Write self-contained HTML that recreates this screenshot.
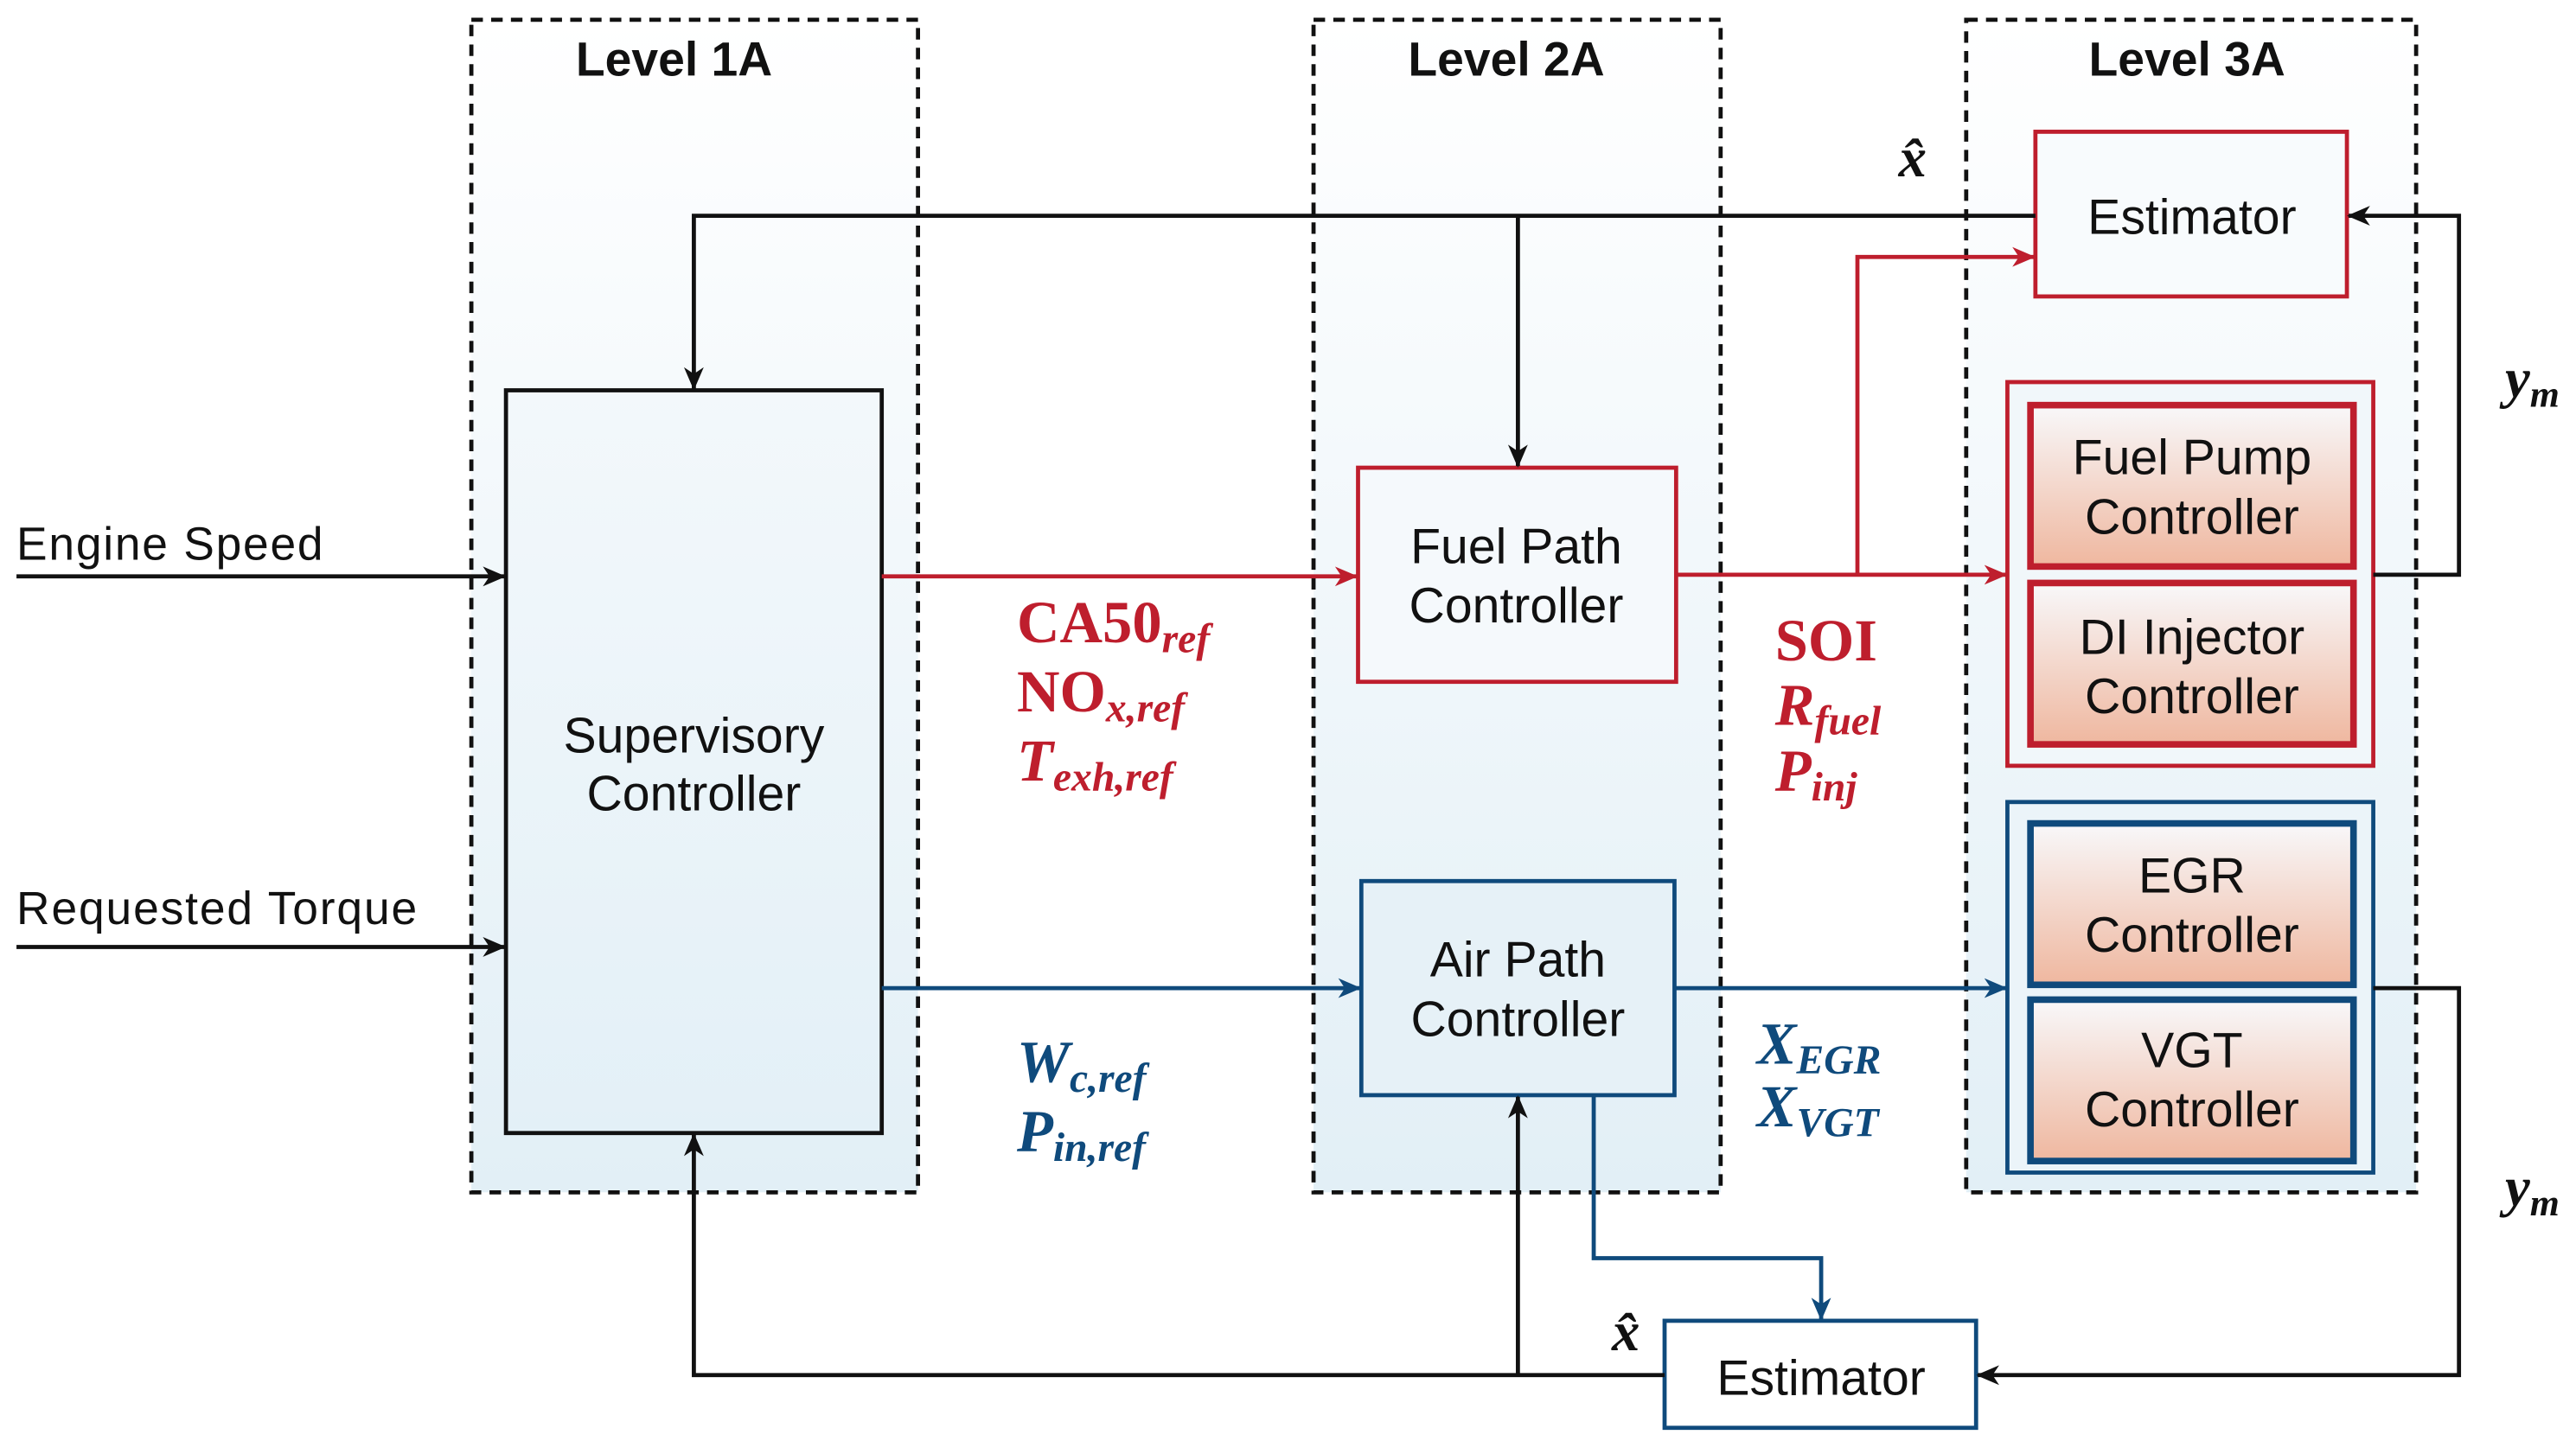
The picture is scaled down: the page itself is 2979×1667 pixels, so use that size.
<!DOCTYPE html>
<html><head><meta charset="utf-8"><style>
html,body{margin:0;padding:0;background:#fff;}
svg{display:block;}
</style></head><body>
<svg width="2979" height="1667" viewBox="0 0 1563 875" preserveAspectRatio="none" xmlns="http://www.w3.org/2000/svg">
<defs>
<linearGradient id="lv" x1="0" y1="0" x2="0" y2="1"><stop offset="0" stop-color="#ffffff"/><stop offset="1" stop-color="#e2eff6"/></linearGradient>
<linearGradient id="bx" x1="0" y1="0" x2="0" y2="1"><stop offset="0" stop-color="#f8f8fa"/><stop offset="1" stop-color="#efb79f"/></linearGradient>
<linearGradient id="sv" x1="0" y1="0" x2="0" y2="1"><stop offset="0" stop-color="#f3f8fb"/><stop offset="1" stop-color="#e3f0f7"/></linearGradient>
<marker id="ak" markerWidth="14" markerHeight="14" refX="13" refY="7" orient="auto" markerUnits="userSpaceOnUse"><path d="M0,1 L14,7 L0,13 L4,7 z" fill="#111"/></marker>
<marker id="ar" markerWidth="14" markerHeight="14" refX="13" refY="7" orient="auto" markerUnits="userSpaceOnUse"><path d="M0,1 L14,7 L0,13 L4,7 z" fill="#be1e2d"/></marker>
<marker id="ab" markerWidth="14" markerHeight="14" refX="13" refY="7" orient="auto" markerUnits="userSpaceOnUse"><path d="M0,1 L14,7 L0,13 L4,7 z" fill="#0f4a7c"/></marker>
</defs>
<g stroke="#111" stroke-width="2.5" stroke-dasharray="7,5" fill="url(#lv)">
<rect x="286" y="12" width="271" height="712"/>
<rect x="797" y="12" width="247" height="712"/>
<rect x="1193" y="12" width="273" height="712"/>
</g>
<g font-family="Liberation Sans, sans-serif" font-weight="bold" font-size="29" fill="#111" text-anchor="middle">
<text x="409" y="46">Level 1A</text><text x="914" y="46">Level 2A</text><text x="1327" y="46">Level 3A</text>
</g>
<rect x="307" y="237" width="228" height="451" fill="url(#sv)" stroke="#111" stroke-width="2.5"/>
<rect x="824" y="284" width="193" height="130" fill="#f5f9fc" stroke="#be1e2d" stroke-width="2.5"/>
<rect x="826" y="535" width="190" height="130" fill="#e6f1f7" stroke="#0f4a7c" stroke-width="2.5"/>
<rect x="1235" y="80" width="189" height="100" fill="#f8fbfd" stroke="#be1e2d" stroke-width="2.5"/>
<rect x="1218" y="232" width="222" height="233" fill="#f1f7fa" stroke="#be1e2d" stroke-width="2.5"/>
<rect x="1232" y="246" width="196" height="98" fill="url(#bx)" stroke="#be1e2d" stroke-width="4"/>
<rect x="1232" y="354" width="196" height="98" fill="url(#bx)" stroke="#be1e2d" stroke-width="4"/>
<rect x="1218" y="487" width="222" height="225" fill="#ebf4f9" stroke="#0f4a7c" stroke-width="2.5"/>
<rect x="1232" y="500" width="196" height="98" fill="url(#bx)" stroke="#0f4a7c" stroke-width="4"/>
<rect x="1232" y="607" width="196" height="98" fill="url(#bx)" stroke="#0f4a7c" stroke-width="4"/>
<rect x="1010" y="802" width="189" height="65" fill="#fff" stroke="#0f4a7c" stroke-width="2.5"/>
<g fill="none" stroke-width="2.5">
<path d="M1235,131 H421 V236" stroke="#111" marker-end="url(#ak)"/>
<path d="M921,131 V283" stroke="#111" marker-end="url(#ak)"/>
<path d="M10,350 H306" stroke="#111" marker-end="url(#ak)"/>
<path d="M10,575 H306" stroke="#111" marker-end="url(#ak)"/>
<path d="M535,350 H823" stroke="#be1e2d" marker-end="url(#ar)"/>
<path d="M1017,349 H1217" stroke="#be1e2d" marker-end="url(#ar)"/>
<path d="M1127,349 V156 H1234" stroke="#be1e2d" marker-end="url(#ar)"/>
<path d="M1440,349 H1492 V131 H1425" stroke="#111" marker-end="url(#ak)"/>
<path d="M535,600 H825" stroke="#0f4a7c" marker-end="url(#ab)"/>
<path d="M1016,600 H1217" stroke="#0f4a7c" marker-end="url(#ab)"/>
<path d="M1440,600 H1492 V835 H1200" stroke="#111" marker-end="url(#ak)"/>
<path d="M967,665 V764 H1105 V801" stroke="#0f4a7c" marker-end="url(#ab)"/>
<path d="M1010,835 H421 V689" stroke="#111" marker-end="url(#ak)"/>
<path d="M921,835 V666" stroke="#111" marker-end="url(#ak)"/>
</g>
<g font-family="Liberation Sans, sans-serif" font-size="30" fill="#111" text-anchor="middle">
<text x="421" y="457">Supervisory</text><text x="421" y="492">Controller</text>
<text x="920" y="342">Fuel Path</text><text x="920" y="378">Controller</text>
<text x="921" y="593">Air Path</text><text x="921" y="629">Controller</text>
<text x="1330" y="142">Estimator</text>
<text x="1330" y="288">Fuel Pump</text><text x="1330" y="324">Controller</text>
<text x="1330" y="397">DI Injector</text><text x="1330" y="433">Controller</text>
<text x="1330" y="542">EGR</text><text x="1330" y="578">Controller</text>
<text x="1330" y="648">VGT</text><text x="1330" y="684">Controller</text>
<text x="1105" y="847">Estimator</text>
</g>
<g font-family="Liberation Sans, sans-serif" font-size="28" fill="#111">
<text x="10" y="340" textLength="186">Engine Speed</text>
<text x="10" y="561" textLength="243">Requested Torque</text>
</g>
<g font-family="Liberation Serif, serif" font-size="36" font-weight="bold" fill="#be1e2d">
<text x="617" y="390">CA50<tspan font-style="italic" font-size="25" dy="6">ref</tspan></text>
<text x="617" y="432">NO<tspan font-style="italic" font-size="25" dy="6">x,ref</tspan></text>
<text x="617" y="474" font-style="italic">T<tspan font-size="25" dy="6">exh,ref</tspan></text>
<text x="1077" y="401">SOI</text>
<text x="1077" y="440" font-style="italic">R<tspan font-size="25" dy="6">fuel</tspan></text>
<text x="1077" y="480" font-style="italic">P<tspan font-size="25" dy="6">inj</tspan></text>
</g>
<g font-family="Liberation Serif, serif" font-size="36" font-weight="bold" fill="#0f4a7c" font-style="italic">
<text x="617" y="657">W<tspan font-size="25" dy="6">c,ref</tspan></text>
<text x="617" y="699">P<tspan font-size="25" dy="6">in,ref</tspan></text>
<text x="1066" y="646">X<tspan font-size="25" dy="6">EGR</tspan></text>
<text x="1066" y="684">X<tspan font-size="25" dy="6">VGT</tspan></text>
</g>
<g font-family="Liberation Serif, serif" font-size="34" font-weight="bold" fill="#111" font-style="italic">
<text x="1152" y="107">x̂</text>
<text x="978" y="820">x̂</text>
<text x="1520" y="241">y<tspan font-size="23" dy="6">m</tspan></text>
<text x="1520" y="732">y<tspan font-size="23" dy="6">m</tspan></text>
</g>
</svg>
</body></html>
